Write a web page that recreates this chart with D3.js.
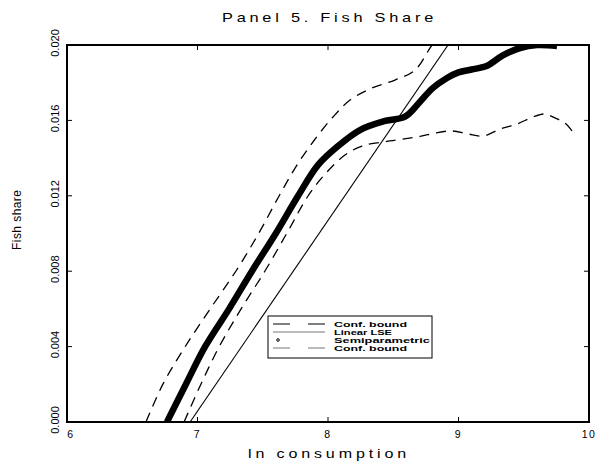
<!DOCTYPE html>
<html><head><meta charset="utf-8">
<script src="https://cdn.jsdelivr.net/npm/d3@7"></script>
<style>body{margin:0;background:#fff}svg{display:block}text{font-family:"Liberation Sans",Arial,sans-serif;fill:#000}</style>
</head><body><svg id="c" width="602" height="470"></svg>
<script>
// ---- data ----
const xTicks = [6, 7, 8, 9, 10];
const xTickLabels = ["6", "7", "8", "9", "10"];
const yTicks = [0, 0.004, 0.008, 0.012, 0.016, 0.020];
const yTickLabels = ["0.000", "0.004", "0.008", "0.012", "0.016", "0.020"];
const semiX = [6.766, 6.912, 7.057, 7.241, 7.418, 7.602, 7.770, 7.923, 8.077, 8.245, 8.437, 8.590, 8.70, 8.80, 8.912, 9.00, 9.10, 9.22, 9.34, 9.471, 9.602, 9.755];
const semiY = [0.0, 0.00202, 0.00398, 0.00599, 0.00801, 0.01003, 0.01199, 0.01363, 0.01464, 0.01549, 0.01597, 0.01620, 0.01695, 0.01770, 0.01825, 0.01855, 0.01870, 0.01890, 0.01945, 0.01984, 0.0200, 0.01995];
const upperX = [6.605, 6.736, 6.904, 7.096, 7.295, 7.471, 7.625, 7.762, 7.900, 8.038, 8.169, 8.337, 8.513, 8.667, 8.797, 8.858];
const upperY = [0.0, 0.00202, 0.00398, 0.00599, 0.00801, 0.01003, 0.01199, 0.01363, 0.01500, 0.01618, 0.01708, 0.01772, 0.01814, 0.01867, 0.0200, 0.0205];
const lowerX = [6.897, 7.027, 7.165, 7.333, 7.517, 7.686, 7.847, 7.992, 8.130, 8.261, 8.475, 8.705, 8.82, 8.95, 9.073, 9.188, 9.318, 9.448, 9.571, 9.663, 9.739, 9.816, 9.87];
const lowerY = [0.0, 0.00202, 0.00398, 0.00599, 0.00801, 0.01003, 0.01199, 0.01326, 0.01416, 0.01464, 0.01491, 0.01515, 0.01533, 0.01544, 0.01528, 0.01517, 0.01554, 0.01581, 0.01618, 0.01634, 0.01613, 0.01586, 0.01544];
const linX = [6.943, 8.92];
const linY = [0.0, 0.020];
const legendLabels = ["Conf. bound", "Linear LSE", "Semiparametric", "Conf. bound"];
const legendTextWidth = [73, 58, 96, 73];
const titleText = "Panel 5. Fish Share";
const xLabel = "ln consumption";
const yLabel = "Fish share";

// ---- layout ----
const L = 67, R = 589, T = 45, B = 422;
const svg = d3.select("#c");
const x = d3.scaleLinear().domain([6, 10]).range([L, R]);
const y = d3.scaleLinear().domain([0, 0.02]).range([B, T]);

svg.append("defs").append("clipPath").attr("id", "clip")
  .append("rect").attr("x", L).attr("y", T).attr("width", R - L).attr("height", B - T);

const line = d3.line().x(d => x(d[0])).y(d => y(d[1])).curve(d3.curveCatmullRom.alpha(0.5));
const zip = (a, b) => a.map((v, i) => [v, b[i]]);

const g = svg.append("g").attr("clip-path", "url(#clip)");
g.append("path").datum(zip(upperX, upperY)).attr("d", line)
  .attr("fill", "none").attr("stroke", "#000").attr("stroke-width", 1.3).attr("stroke-dasharray", "10,7");
g.append("path").datum(zip(lowerX, lowerY)).attr("d", line)
  .attr("fill", "none").attr("stroke", "#000").attr("stroke-width", 1.3).attr("stroke-dasharray", "10,7");
g.append("path").datum(zip(linX, linY)).attr("d", d3.line().x(d => x(d[0])).y(d => y(d[1])))
  .attr("fill", "none").attr("stroke", "#000").attr("stroke-width", 1.1);
g.append("path").datum(zip(semiX, semiY)).attr("d", line)
  .attr("fill", "none").attr("stroke", "#000").attr("stroke-width", 6.5).attr("stroke-linecap", "butt");

// ---- axes ----
const tickLen = 5;
const innerX = xTicks.slice(1, -1);
const innerY = yTicks.slice(1, -1);
const ax = svg.append("g");
ax.selectAll("line.tb").data(innerX).join("line").attr("class", "tb")
  .attr("x1", d => x(d)).attr("x2", d => x(d)).attr("y1", B).attr("y2", B - tickLen).attr("stroke", "#000");
ax.selectAll("line.tt").data(innerX).join("line").attr("class", "tt")
  .attr("x1", d => x(d)).attr("x2", d => x(d)).attr("y1", T).attr("y2", T + tickLen).attr("stroke", "#000");
ax.selectAll("line.tl").data(innerY).join("line").attr("class", "tl")
  .attr("x1", L).attr("x2", L + tickLen).attr("y1", d => y(d)).attr("y2", d => y(d)).attr("stroke", "#000");
ax.selectAll("line.tr").data(innerY).join("line").attr("class", "tr")
  .attr("x1", R).attr("x2", R - tickLen).attr("y1", d => y(d)).attr("y2", d => y(d)).attr("stroke", "#000");
// x tick labels
ax.selectAll("text.xl").data(xTicks).join("text").attr("class", "xl")
  .attr("x", (d, i) => x(d) + (i === 0 ? 4 : 0)).attr("y", 438)
  .attr("text-anchor", "middle").attr("font-size", 10.5).attr("letter-spacing", 1.5)
  .text((d, i) => xTickLabels[i]);
// y tick labels rotated
ax.selectAll("text.yl").data(yTicks).join("text").attr("class", "yl")
  .attr("transform", d => `translate(59,${y(d) - 2}) rotate(-90)`)
  .attr("text-anchor", "middle").attr("font-size", 11)
  .text((d, i) => yTickLabels[i]);

// frame
svg.append("rect").attr("x", L).attr("y", T).attr("width", R - L).attr("height", B - T)
  .attr("fill", "none").attr("stroke", "#000").attr("stroke-width", 2);

// titles
svg.append("text").attr("x", 222).attr("y", 22).attr("font-size", 13).attr("letter-spacing", 3)
  .attr("textLength", 215).attr("lengthAdjust", "spacingAndGlyphs").text(titleText);
svg.append("text").attr("x", 248).attr("y", 458).attr("font-size", 12.5).attr("letter-spacing", 3)
  .attr("textLength", 162).attr("lengthAdjust", "spacingAndGlyphs").text(xLabel);
svg.append("text").attr("transform", "translate(21,220) rotate(-90)").attr("text-anchor", "middle")
  .attr("font-size", 12).attr("textLength", 60).attr("lengthAdjust", "spacing").text(yLabel);

// legend
const lg = svg.append("g");
lg.append("rect").attr("x", 268).attr("y", 316).attr("width", 164).attr("height", 42)
  .attr("fill", "#fff").attr("stroke", "#000").attr("stroke-width", 1);
const rowsY = [324, 332, 340, 348];
const sampleCol = ["#000", "#777", "#000", "#777"];
legendLabels.forEach((t, i) => {
  const yy = rowsY[i];
  if (i === 1) {
    lg.append("line").attr("x1", 273).attr("x2", 325).attr("y1", yy).attr("y2", yy).attr("stroke", sampleCol[i]).attr("stroke-width", 1);
  } else if (i === 2) {
    lg.append("circle").attr("cx", 278).attr("cy", yy).attr("r", 1.3).attr("fill", "none").attr("stroke", "#000").attr("stroke-width", 1);
  } else {
    lg.append("line").attr("x1", 273).attr("x2", 290).attr("y1", yy).attr("y2", yy).attr("stroke", sampleCol[i]);
    lg.append("line").attr("x1", 308).attr("x2", 325).attr("y1", yy).attr("y2", yy).attr("stroke", sampleCol[i]);
  }
  lg.append("text").attr("x", 334).attr("y", yy + 2.5).attr("font-size", 6.8).attr("font-weight", "bold")
    .attr("textLength", legendTextWidth[i]).attr("lengthAdjust", "spacingAndGlyphs").text(t);
});
</script></body></html>
